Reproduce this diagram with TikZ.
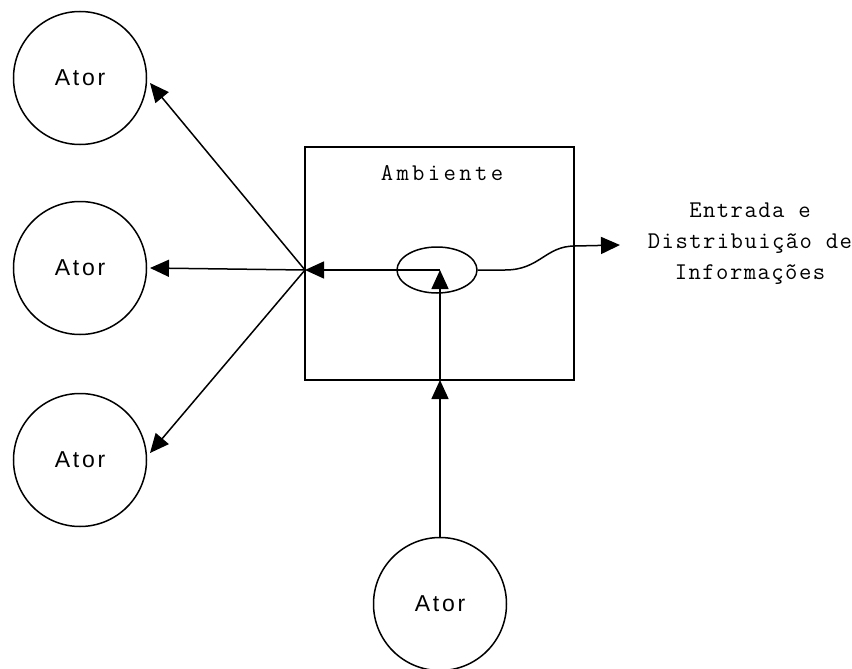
\documentclass[tikz,border=0pt]{standalone}
\usepackage{fontspec}
\setmainfont{Liberation Mono}
\newfontfamily\atorfont[LetterSpace=12]{Liberation Sans}
\newfontfamily\capfont[LetterSpace=6]{Latin Modern Mono}
\newfontfamily\boxfont[LetterSpace=14]{Latin Modern Mono}
\usetikzlibrary{arrows.meta,shapes.geometric}
\begin{document}
\begin{tikzpicture}[x=1pt,y=-1pt,
  actor/.style={circle,draw,line width=1.5pt,minimum size=133pt,inner sep=0pt,
    font=\atorfont\fontsize{23}{26}\selectfont},
  flow/.style={line width=1.5pt,-{Triangle[length=19pt,width=17pt]}},
  caption/.style={font=\capfont\fontsize{24}{31}\selectfont,align=center,inner sep=0pt}]
\useasboundingbox (0,0) rectangle (852,669);

% actors
\node[actor] (a1) at (80,78)  {Ator};
\node[actor] (a2) at (80,268) {Ator};
\node[actor] (a3) at (80,460) {Ator};
\node[actor] (a4) at (440,604) {Ator};

% environment box with its core
\node[draw,line width=1.5pt,minimum width=269pt,minimum height=233pt,inner sep=0pt]
  (amb) at (439.5,263.5) {};
\node[caption,font=\boxfont\fontsize{24}{31}\selectfont] (ambt) at (442,173) {Ambiente};
\node[ellipse,draw,line width=1.5pt,minimum width=80pt,minimum height=46pt,inner sep=0pt]
  (core) at (437,270) {};

% fixed points on the connectors
\coordinate (j)   at (305,270);
\coordinate (c)   at (440,270);
\coordinate (bb)  at (440,380);
\coordinate (t1)  at (150,83);
\coordinate (t2)  at (150,268);
\coordinate (t3)  at (150,453);
\coordinate (w1)  at (505,270);
\coordinate (w3)  at (575,246);
\coordinate (out) at (620,245);

% outputs text
\node[caption] (info) at (750,244) {Entrada e\\Distribuição de\\Informações};

% connectors
\draw[flow] (c) -- (j);
\draw[flow] (j) -- (t1);
\draw[flow] (j) -- (t2);
\draw[flow] (j) -- (t3);
\draw[flow] (a4.north) -- (bb);
\draw[flow] (bb) -- (c);
\draw[flow] (core.east) -- (w1) .. controls (540,270) and (545,246) .. (w3) -- (out);
\end{tikzpicture}
\end{document}
